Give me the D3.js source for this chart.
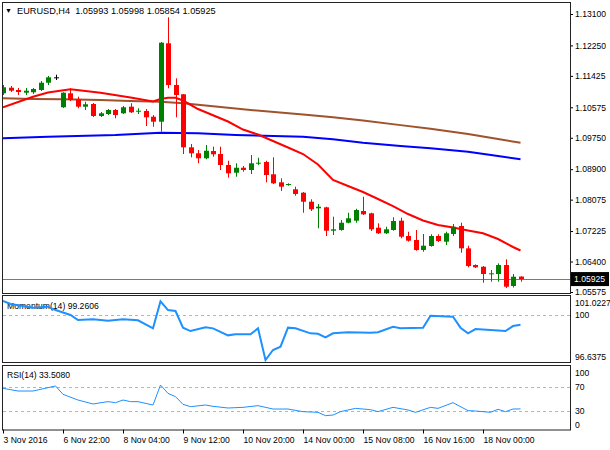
<!DOCTYPE html>
<html>
<head>
<meta charset="utf-8">
<script src="https://cdn.jsdelivr.net/npm/d3@7"></script>
<style>
body { margin: 0; background: #fff; }
text { font-family: "Liberation Sans", Arial, sans-serif; }
</style>
</head>
<body>
<div id="chart"></div>
<script>
// EURUSD H4 candles, 3 Nov 2016 16:00 .. 18 Nov 2016 20:00
var opens = [1.10954,1.11105,1.11043,1.10970,1.10981,1.11043,1.11240,1.11386,1.10575,1.10954,
  1.10791,1.10591,1.10664,1.10339,1.10393,1.10501,1.10412,1.10591,1.10466,1.10474,
  1.10320,1.10185,1.12307,1.11178,1.10927,1.09491,1.09329,1.09194,1.09391,1.09310,
  1.09013,1.08804,1.08939,1.08877,1.09048,1.09094,1.08761,1.08544,1.08471,1.08355,
  1.08263,1.08019,1.07840,1.07867,1.07234,1.07253,1.07450,1.07505,1.07767,1.07705,
  1.07315,1.07164,1.07253,1.07505,1.07091,1.06983,1.06711,1.06820,1.07091,1.06937,
  1.07145,1.07361,1.06757,1.06305,1.06259,1.06062,1.06062,1.06305,1.05738,1.05993];
var highs = [1.11178,1.11151,1.11097,1.11097,1.11097,1.11286,1.11422,1.11457,1.10981,1.11089,
  1.10862,1.10726,1.10691,1.10447,1.10528,1.10528,1.10610,1.10683,1.10548,1.10528,
  1.10366,1.12342,1.13011,1.11359,1.10935,1.09581,1.09418,1.09554,1.09508,1.09508,
  1.09129,1.09059,1.08985,1.09283,1.09210,1.09129,1.09221,1.08653,1.08517,1.08425,
  1.08282,1.08084,1.07957,1.07884,1.07613,1.07523,1.07721,1.07829,1.08154,1.07721,
  1.07434,1.07342,1.07597,1.07586,1.07207,1.07253,1.07145,1.07137,1.07137,1.07207,
  1.07415,1.07450,1.06828,1.06323,1.06278,1.06170,1.06350,1.06459,1.06062,1.05998];
var lows = [1.10907,1.10989,1.10907,1.10907,1.10935,1.11016,1.11178,1.11313,1.10556,1.10745,
  1.10548,1.10501,1.10312,1.10312,1.10366,1.10277,1.10393,1.10420,1.10393,1.10068,
  1.10049,1.09914,1.11089,1.10304,1.09310,1.09221,1.09059,1.09167,1.09237,1.08877,
  1.08669,1.08696,1.08831,1.08769,1.09013,1.08544,1.08498,1.08309,1.08452,1.08182,
  1.07721,1.07767,1.07299,1.07091,1.07118,1.07234,1.07434,1.07450,1.07659,1.07226,
  1.07145,1.07145,1.07234,1.07029,1.06937,1.06692,1.06665,1.06801,1.06928,1.06847,
  1.07091,1.06638,1.06243,1.06224,1.05827,1.05854,1.05854,1.05682,1.05696,1.05854];
var closes = [1.11116,1.11024,1.10989,1.11024,1.11070,1.11240,1.11386,1.11386,1.10970,1.10772,
  1.10591,1.10656,1.10339,1.10412,1.10501,1.10366,1.10575,1.10439,1.10482,1.10304,
  1.10185,1.12323,1.11178,1.10907,1.09491,1.09329,1.09194,1.09399,1.09302,1.09013,
  1.08788,1.08939,1.08877,1.09059,1.09075,1.08742,1.08517,1.08425,1.08498,1.08228,
  1.08019,1.07813,1.07884,1.07234,1.07272,1.07450,1.07570,1.07794,1.07678,1.07272,
  1.07164,1.07272,1.07496,1.07072,1.06964,1.06711,1.06828,1.07091,1.06955,1.07164,
  1.07342,1.06757,1.06278,1.06243,1.06062,1.06081,1.06305,1.05719,1.05989,1.05925];

// moving averages: [bar, price]
var maRed = [[0,1.10574],[4,1.10861],[6,1.10975],[9,1.11062],[13,1.10970],[17,1.10840],[20,1.10731],
  [21,1.10799],[22,1.10834],[23,1.10834],[24,1.10758],[26,1.10528],[30,1.10190],[32,1.09973],
  [34,1.09838],[38,1.09486],[40,1.09310],[42,1.09026],[44,1.08606],[46,1.08444],[48,1.08281],
  [50,1.08092],[52,1.07902],[54,1.07686],[56,1.07510],[58,1.07388],[60,1.07320],[62,1.07239],
  [64,1.07163],[66,1.07009],[68,1.06793],[69,1.06698]];
var maBrown = [[0,1.10818],[4,1.10799],[8,1.10791],[13,1.10772],[17,1.10745],[21,1.10726],[24,1.10683],
  [28,1.10601],[33,1.10501],[40,1.10377],[44,1.10304],[48,1.10220],[53,1.10092],[57,1.09992],
  [62,1.09852],[64,1.09784],[66,1.09716],[69,1.09616]];
var maBlue = [[0,1.09735],[6,1.09779],[15,1.09824],[21,1.09887],[26,1.09871],[31,1.09824],[40,1.09779],
  [44,1.09708],[48,1.09616],[53,1.09527],[57,1.09465],[62,1.09372],[66,1.09256],[69,1.09167]];

// indicators: [bar, value]
var momentum = [[0,101.0227],[1,100.80],[4,100.53],[6,100.60],[7,100.35],[9,99.98],[10,99.61],[12,99.66],
  [14,99.56],[16,99.66],[18,99.59],[20,98.99],[21,101.00],[22,100.35],[23,100.28],[24,99.04],[25,98.79],
  [27,99.07],[28,98.99],[30,98.47],[31,98.55],[33,98.55],[34,98.99],[35,96.6375],[36,97.38],[37,97.63],
  [38,99.04],[39,98.99],[41,98.62],[42,98.59],[43,98.32],[44,98.62],[46,98.70],[49,98.67],[50,98.70],
  [52,99.11],[53,98.99],[56,99.04],[57,99.93],[60,99.86],[61,99.04],[62,98.62],[63,98.94],[65,98.87],
  [67,98.79],[68,99.16],[69,99.2606]];
var rsi = [[0,67.8],[2,63.3],[4,63.3],[6,68.9],[7,71.7],[8,57.8],[10,48.3],[12,41.7],[14,45.6],[15,43.9],
  [16,48.3],[17,45.6],[18,45.6],[20,40],[21,73.3],[22,59.4],[23,53.9],[24,41.1],[25,37.2],[27,40],
  [28,37.8],[30,35],[32,36.1],[34,38.9],[36,33.3],[38,33.3],[40,28.9],[42,27.8],[43,22.2],[44,23.3],
  [45,28.9],[47,34.4],[49,32.2],[50,28.9],[52,36.1],[54,31.7],[55,27.8],[57,36.1],[58,34.4],[60,43.9],
  [62,30.6],[63,30],[65,27.8],[66,32.8],[67,28.9],[68,33.3],[69,33.508]];

var priceTicks = [1.13100,1.12250,1.11425,1.10575,1.09750,1.08900,1.08075,1.07225,1.06400,1.05575];
var momTicks = [101.0227, 100, 96.6375];
var rsiTicks = [100, 70, 30, 0];
var timeTickBars = [0, 8, 16, 24, 32, 40, 48, 56, 64];
var timeTickLabels = ["3 Nov 2016","6 Nov 22:00","8 Nov 04:00","9 Nov 12:00","10 Nov 20:00",
  "14 Nov 00:00","15 Nov 08:00","16 Nov 16:00","18 Nov 00:00"];

var w = 610, h = 450;
var left = 3, right = 570;
var main = {top: 3, bottom: 293};
var momPanel = {top: 296, bottom: 362};
var rsiPanel = {top: 366, bottom: 429.5};

var svg = d3.select("#chart").append("svg")
  .attr("width", w)
  .attr("height", h);

var xScale = d3.scaleLinear().domain([0, 69]).range([3, 520.5]);
var yPrice = d3.scaleLinear().domain([1.05575, 1.13100]).range([292, 14]);
var yMom = d3.scaleLinear().domain([96.6375, 101.0227]).range([360, 301]);
var yRsi = d3.scaleLinear().domain([0, 100]).range([429, 369]);

svg.append("clipPath").attr("id", "clipMain")
  .append("rect").attr("x", left).attr("y", main.top).attr("width", right - left).attr("height", main.bottom - main.top);
svg.append("clipPath").attr("id", "clipMom")
  .append("rect").attr("x", left).attr("y", momPanel.top).attr("width", right - left).attr("height", momPanel.bottom - momPanel.top);
svg.append("clipPath").attr("id", "clipRsi")
  .append("rect").attr("x", left).attr("y", rsiPanel.top).attr("width", right - left).attr("height", rsiPanel.bottom - rsiPanel.top);

var candles = opens.map(function(o, i) {
  return {i: i, o: o, h: highs[i], l: lows[i], c: closes[i]};
});

function candleColor(d) {
  if (d.c > d.o) return "#008000";
  if (d.c < d.o) return "#ff0000";
  return "#000000";
}

// main chart
var gMain = svg.append("g").attr("clip-path", "url(#clipMain)");

// current price line
gMain.append("line")
  .attr("x1", left).attr("x2", right)
  .attr("y1", Math.round(yPrice(closes[closes.length - 1])) + 0.5)
  .attr("y2", Math.round(yPrice(closes[closes.length - 1])) + 0.5)
  .attr("stroke", "#7a7a7a")
  .attr("stroke-width", 1);

var maLine = d3.line()
  .x(function(d) { return xScale(d[0]); })
  .y(function(d) { return yPrice(d[1]); });

[[maBrown, "#a0522d"], [maBlue, "#0000ff"], [maRed, "#ff0000"]].forEach(function(m) {
  gMain.append("path")
    .datum(m[0])
    .attr("d", maLine)
    .attr("fill", "none")
    .attr("stroke", m[1])
    .attr("stroke-width", 2);
});

gMain.selectAll(".wick")
  .data(candles)
  .join("line")
  .attr("class", "wick")
  .attr("x1", function(d) { return Math.round(xScale(d.i)) + 0.5; })
  .attr("x2", function(d) { return Math.round(xScale(d.i)) + 0.5; })
  .attr("y1", function(d) { return yPrice(d.h); })
  .attr("y2", function(d) { return yPrice(d.l); })
  .attr("stroke", candleColor)
  .attr("stroke-width", 1);

gMain.selectAll(".body")
  .data(candles)
  .join("rect")
  .attr("class", "body")
  .attr("x", function(d) { return Math.round(xScale(d.i)) - 2; })
  .attr("width", 5)
  .attr("y", function(d) { return yPrice(Math.max(d.o, d.c)); })
  .attr("height", function(d) { return Math.max(1, yPrice(Math.min(d.o, d.c)) - yPrice(Math.max(d.o, d.c))); })
  .attr("fill", candleColor);

// title
var last = candles[candles.length - 1];
var f5 = d3.format(".5f");
svg.append("text")
  .attr("x", 5).attr("y", 13)
  .attr("font-size", 7)
  .text("\u25BC");
svg.append("text")
  .attr("x", 17).attr("y", 13.5)
  .attr("font-size", 9.2)
  .style("white-space", "pre")
  .text("EURUSD,H4  " + f5(last.o) + " " + f5(last.h) + " " + f5(last.l) + " " + f5(last.c));

// price axis
var priceAxis = svg.append("g")
  .attr("transform", "translate(" + right + ",0)")
  .call(d3.axisRight(yPrice).tickValues(priceTicks).tickSize(3).tickPadding(2).tickFormat(f5));
priceAxis.select(".domain").remove();
priceAxis.selectAll("text").attr("font-size", 8.6).attr("fill", "#000");
priceAxis.selectAll("line").attr("stroke", "#000");

// current price box
var lastY = yPrice(last.c);
svg.append("rect")
  .attr("x", right + 1).attr("y", lastY - 7)
  .attr("width", 38).attr("height", 14)
  .attr("fill", "#000");
svg.append("text")
  .attr("x", right + 4).attr("y", lastY + 3.2)
  .attr("font-size", 8.6)
  .attr("fill", "#fff")
  .text(f5(last.c));

// momentum panel
var gMom = svg.append("g");
gMom.append("line")
  .attr("x1", left).attr("x2", right)
  .attr("y1", Math.round(yMom(100)) + 0.5).attr("y2", Math.round(yMom(100)) + 0.5)
  .attr("stroke", "#b4b4b4").attr("stroke-dasharray", "3,3");
gMom.append("text")
  .attr("x", 7).attr("y", 308.5)
  .attr("font-size", 8.6)
  .text("Momentum(14) " + d3.format(".4f")(momentum[momentum.length - 1][1]));
gMom.append("path")
  .datum(momentum)
  .attr("clip-path", "url(#clipMom)")
  .attr("d", d3.line().x(function(d) { return xScale(d[0]); }).y(function(d) { return yMom(d[1]); }))
  .attr("fill", "none")
  .attr("stroke", "#1e90ff")
  .attr("stroke-width", 2);

function sideLabels(scale, values, fmt, panel) {
  var g = svg.append("g");
  g.selectAll("text")
    .data(values)
    .join("text")
    .attr("x", right + 5)
    .attr("y", function(d) {
      var y = Math.min(Math.max(scale(d), panel.top + 7), panel.bottom - 5);
      return y + 3.2;
    })
    .attr("font-size", 8.6)
    .text(fmt);
}
sideLabels(yMom, momTicks, function(d) { return d === 100 ? "100" : d3.format(".4f")(d); }, momPanel);

// rsi panel
var gRsi = svg.append("g");
[70, 30].forEach(function(level) {
  gRsi.append("line")
    .attr("x1", left).attr("x2", right)
    .attr("y1", Math.round(yRsi(level)) + 0.5).attr("y2", Math.round(yRsi(level)) + 0.5)
    .attr("stroke", "#b4b4b4").attr("stroke-dasharray", "3,3");
});
gRsi.append("text")
  .attr("x", 7).attr("y", 377.5)
  .attr("font-size", 8.6)
  .text("RSI(14) " + d3.format(".4f")(rsi[rsi.length - 1][1]));
gRsi.append("path")
  .datum(rsi)
  .attr("clip-path", "url(#clipRsi)")
  .attr("d", d3.line().x(function(d) { return xScale(d[0]); }).y(function(d) { return yRsi(d[1]); }))
  .attr("fill", "none")
  .attr("stroke", "#1e90ff")
  .attr("stroke-width", 1);
sideLabels(yRsi, rsiTicks, function(d) { return String(d); }, rsiPanel);

// time axis
var timeAxis = svg.append("g")
  .attr("transform", "translate(0," + rsiPanel.bottom + ")")
  .call(d3.axisBottom(xScale).tickValues(timeTickBars).tickSize(4).tickPadding(3)
    .tickFormat(function(d, i) { return timeTickLabels[i]; }));
timeAxis.select(".domain").remove();
timeAxis.selectAll("text").attr("font-size", 8.6).attr("text-anchor", "start").attr("x", 0).attr("fill", "#000");
timeAxis.selectAll("line").attr("stroke", "#000");

// panel borders
[main, momPanel, rsiPanel].forEach(function(p) {
  svg.append("rect")
    .attr("x", left - 0.5).attr("y", p.top - 0.5)
    .attr("width", right - left + 1).attr("height", p.bottom - p.top + 1)
    .attr("fill", "none")
    .attr("stroke", "#222")
    .attr("stroke-width", 1);
});
</script>
</body>
</html>
